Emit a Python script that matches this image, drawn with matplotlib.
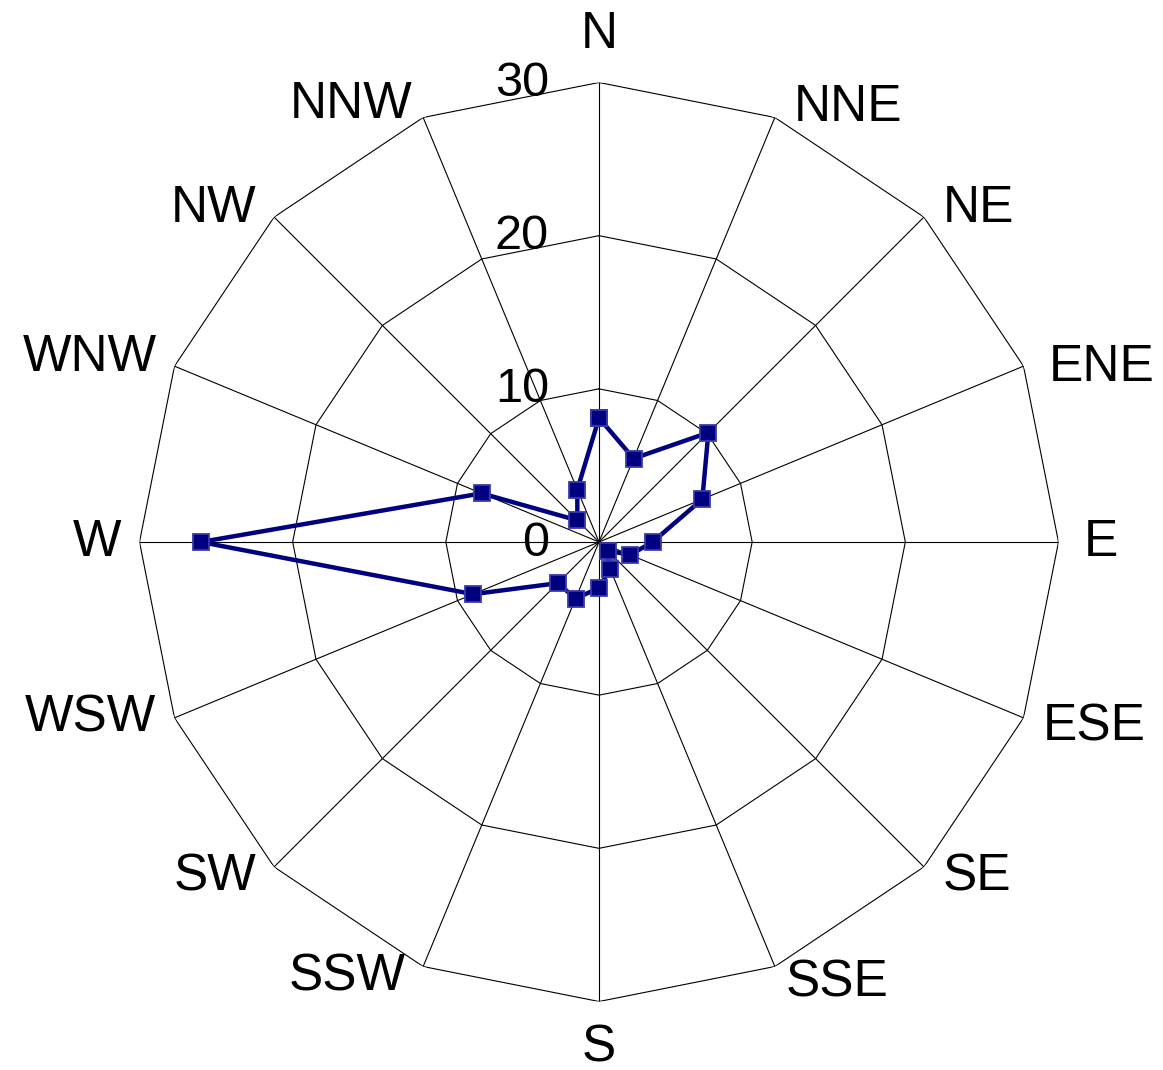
import numpy as np
import matplotlib
matplotlib.use("Agg")
import matplotlib.pyplot as plt

plt.rcParams['font.family'] = ['Liberation Sans', 'DejaVu Sans']

# wind directions, clockwise from north
directions = ['N', 'NNE', 'NE', 'ENE', 'E', 'ESE', 'SE', 'SSE',
              'S', 'SSW', 'SW', 'WSW', 'W', 'WNW', 'NW', 'NNW']
values = [8.1, 5.9, 10.1, 7.3, 3.5, 2.2, 0.8, 1.9,
          3.0, 4.0, 3.8, 8.9, 26.0, 8.3, 2.0, 3.7]
rings = [10, 20, 30]
ring_labels = ['0', '10', '20', '30']

W, H = 1163, 1070
fig = plt.figure(figsize=(W / 100, H / 100), dpi=100)
cx, cy, rad = 599, 542, 459.5
ax = fig.add_axes([(cx - rad) / W, (H - cy - rad) / H, 2 * rad / W, 2 * rad / H],
                  projection='polar')
ax.set_theta_zero_location('N')
ax.set_theta_direction(-1)
ax.set_ylim(0, 30)
ax.grid(False)
ax.spines['polar'].set_visible(False)
ax.set_xticks([])
ax.set_yticks([])
ax.patch.set_alpha(0)

n = len(directions)
theta = np.arange(n) * 2 * np.pi / n
theta_c = np.append(theta, theta[0])

# polygon rings
for r in rings:
    ax.plot(theta_c, [r] * (n + 1), color='black', lw=0.8, zorder=1)
# spokes
for t in theta:
    ax.plot([t, t], [0, 30], color='black', lw=0.8, zorder=1)

# data
vals_c = np.append(values, values[0])
ax.plot(theta_c, vals_c, color='#000080', lw=3.2, marker='s', markersize=12,
        markerfacecolor='#000080', markeredgecolor='#3a3aa8', markeredgewidth=1.3,
        zorder=3, clip_on=False)

# direction labels
px = 0.72  # points per pixel
dy_off = [0, -10, -9, 1, 1, 9, 10, 16, 0, 10, 10, 0, 1, -9, -9, -13]
for k, (t, lab) in enumerate(zip(theta, directions)):
    s = np.sin(t)
    if abs(s) < 1e-6:
        ha = 'center'
        off = (0, 47.5 if k == 0 else -46)
    elif s > 0:
        ha = 'left'
        gap = 11 if k == 7 else (25 if k in (3, 4) else 19)
        off = (gap, -dy_off[k])
    else:
        ha = 'right'
        gap = 11 if k == 15 else 18
        off = (-gap, -dy_off[k])
    ax.annotate(lab, xy=(t, 30), xytext=(off[0] * px, off[1] * px),
                textcoords='offset points', ha=ha, va='center',
                fontsize=37, annotation_clip=False)

# radial value labels along the north spoke
for r, lab in zip([0] + rings, ring_labels):
    ax.annotate(lab, xy=(0, r), xytext=(-50 * px, -1 * px),
                textcoords='offset points', ha='right', va='center',
                fontsize=35, annotation_clip=False)

fig.savefig('out.png', dpi=100)
